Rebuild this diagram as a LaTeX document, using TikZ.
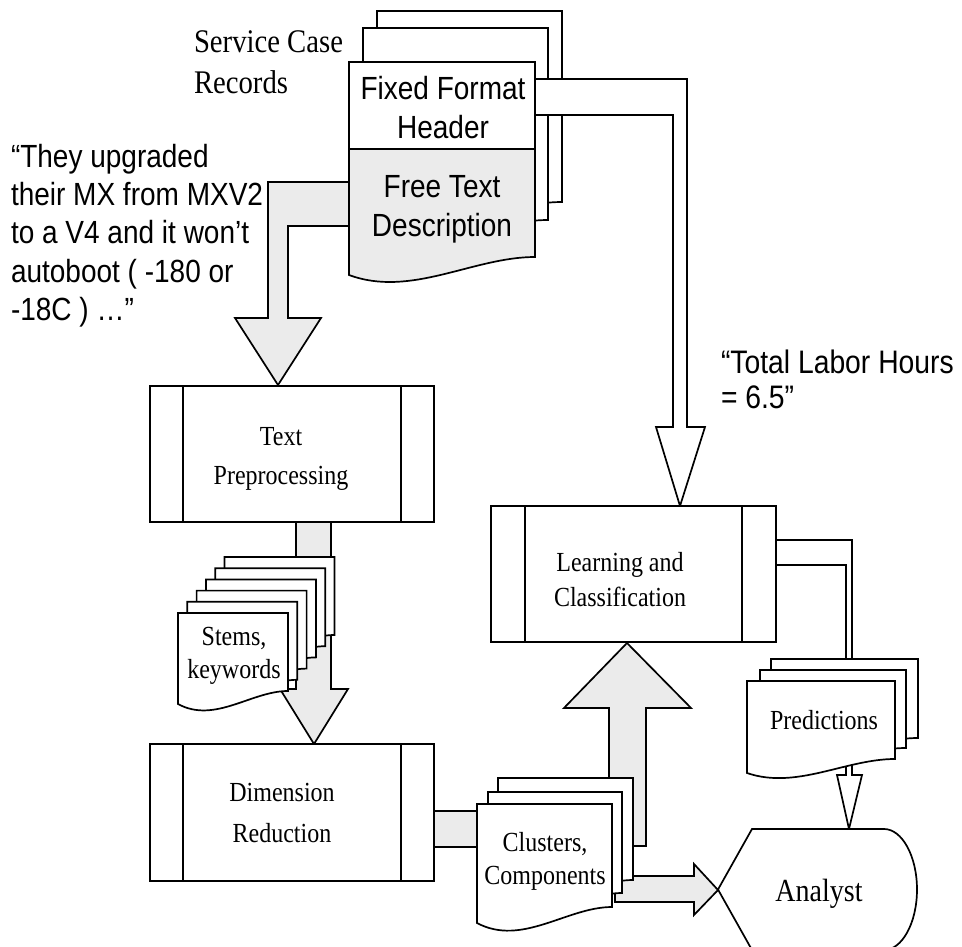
\documentclass[tikz,border=0pt]{standalone}
\usepackage{fontspec}
\setmainfont{Liberation Serif}
\newfontfamily\arial{Liberation Sans}
\usepackage{graphicx}
\definecolor{arrowgray}{HTML}{EBEBEB}
\newcommand\vtx[5]{\scalebox{1}[#4]{\fontsize{#2}{#3}\selectfont\begin{tabular}{@{}#1@{}}#5\end{tabular}}}
% document page with wavy bottom: L T R B fill D a
\newcommand\docpage[7]{%
  \draw[ln,fill=#5] (#1,#2) -- (#3,#2) -- (#3,#4)
    .. controls ({#1+2*(#3-#1)/3},#4) and ({#1+(#3-#1)/3},{#4+#6+#7}) .. (#1,{#4+#6}) -- cycle;}
\tikzset{
  ln/.style={draw=black,line width=1.7pt,line join=miter},
  grayarrow/.style={ln,fill=arrowgray},
  whitearrow/.style={ln,fill=white},
  procbox/.style={ln,fill=white},
  lbl/.style={inner sep=0pt,outer sep=0pt},
}
\begin{document}
\begin{tikzpicture}[x=1pt,y=-1pt]
\useasboundingbox (0,0) rectangle (962,947);
\fill[white] (0,0) rectangle (962,947);

% free text -> text preprocessing
\draw[grayarrow] (349,182) -- (268,182) -- (268,318) -- (235,318) -- (278,385)
  -- (321,318) -- (288,318) -- (288,226) -- (349,226) -- cycle;

% service case records stack
\docpage{377}{11}{562}{202}{white}{18}{23}
\docpage{363}{28}{548}{220}{white}{18}{23}
\docpage{349}{62}{535}{257}{arrowgray}{18}{23}
\draw[ln,fill=white] (349,62) rectangle (535,149);

% header -> learning (hollow)
\draw[whitearrow] (535,79) -- (687,79) -- (687,427) -- (705,427) -- (680,506)
  -- (656,427) -- (673,427) -- (673,115) -- (535,115) -- cycle;

% text preprocessing box
\draw[procbox] (150,386) rectangle (434,522);
\draw[ln] (183,386) -- (183,522) (401,386) -- (401,522);

% tp -> dr arrow
\draw[grayarrow] (296,522) -- (331,522) -- (331,689) -- (348,689) -- (314,744)
  -- (280,689) -- (296,689) -- cycle;

% stems pages
\foreach \i in {5,4,3,2,1,0}{
  \pgfmathsetmacro\L{178+9.3*\i}
  \pgfmathsetmacro\T{613-11.2*\i}
  \pgfmathsetmacro\R{288+9.3*\i}
  \pgfmathsetmacro\B{691-11.2*\i}
  \docpage{\L}{\T}{\R}{\B}{white}{13}{20}
}

% dimension reduction box
\draw[procbox] (150,744) rectangle (434,881);
\draw[ln] (183,744) -- (183,881) (401,744) -- (401,881);

% dr -> clusters band
\draw[grayarrow] (434,811) rectangle (477,847);

% clusters -> learning
\draw[grayarrow] (609,846) -- (609,708) -- (564,708) -- (627,643) -- (691,708)
  -- (646,708) -- (646,846) -- cycle;
% clusters -> analyst
\draw[grayarrow] (615,876) -- (694,876) -- (694,864) -- (718,890) -- (694,915)
  -- (694,902) -- (615,902) -- cycle;

% clusters pages
\docpage{498}{778}{633}{880}{white}{16}{24}
\docpage{488}{792}{622}{893}{white}{16}{24}
\docpage{477}{804}{612}{907}{white}{16}{24}

% learning box
\draw[procbox] (491,506) rectangle (776,642);
\draw[ln] (525,506) -- (525,642) (742,506) -- (742,642);

% learning -> predictions (hollow)
\draw[whitearrow] (776,540) -- (852,540) -- (852,659) -- (846,659) -- (846,565) -- (776,565) -- cycle;
% predictions -> analyst (hollow)
\draw[whitearrow] (846,745) -- (846,775) -- (837,775) -- (849,829) -- (862,775)
  -- (852,775) -- (852,745) -- cycle;

% predictions pages
\docpage{771}{659}{918}{738}{white}{14}{17}
\docpage{760}{670}{906}{748}{white}{14}{17}
\docpage{747}{681}{895}{759}{white}{14}{17}

% analyst
\draw[ln,fill=white] (752,829) -- (884,829) .. controls (902,829) and (917,856) .. (917,889.5)
  .. controls (917,923) and (902,950) .. (884,950) -- (752,950) -- (718,889.5) -- cycle;

% texts
\node[lbl,anchor=west] (scr) at (194,65) {\vtx{l}{28.7}{34.8}{1.15}{Service Case\\Records}};
\node[lbl] (ffh) at (443,111.4) {\arial\vtx{c}{28}{33.2}{1.145}{Fixed Format\\Header}};
\node[lbl] (ftd) at (442,209) {\arial\vtx{c}{28}{34.9}{1.145}{Free Text\\Description}};
\node[lbl,anchor=west] (quote) at (11,236.3) {\arial\vtx{l}{28}{33.6}{1.145}{“They upgraded\\their MX from MXV2\\to a V4 and it won’t\\autoboot ( -180 or\\-18C ) …”}};
\node[lbl,anchor=west] (tlh) at (721,383.8) {\arial\vtx{l}{28.3}{31.3}{1.15}{“Total Labor Hours\\= 6.5”}};
\node[lbl] (tp) at (281,457) {\vtx{c}{24}{34.5}{1.15}{Text\\Preprocessing}};
\node[lbl] (sk) at (234,655) {\vtx{c}{24}{28.7}{1.15}{Stems,\\keywords}};
\node[lbl] (dr) at (282,814) {\vtx{c}{24}{35.7}{1.15}{Dimension\\Reduction}};
\node[lbl] (lc) at (620,582) {\vtx{c}{24}{30.4}{1.15}{Learning and\\Classification}};
\node[lbl] (cc) at (545,861) {\vtx{c}{24}{28.7}{1.15}{Clusters,\\Components}};
\node[lbl] (pr) at (824,723) {\vtx{c}{24}{30.4}{1.15}{Predictions}};
\node[lbl] (an) at (819,894.6) {\vtx{c}{28}{32}{1.15}{Analyst}};
\end{tikzpicture}
\end{document}
